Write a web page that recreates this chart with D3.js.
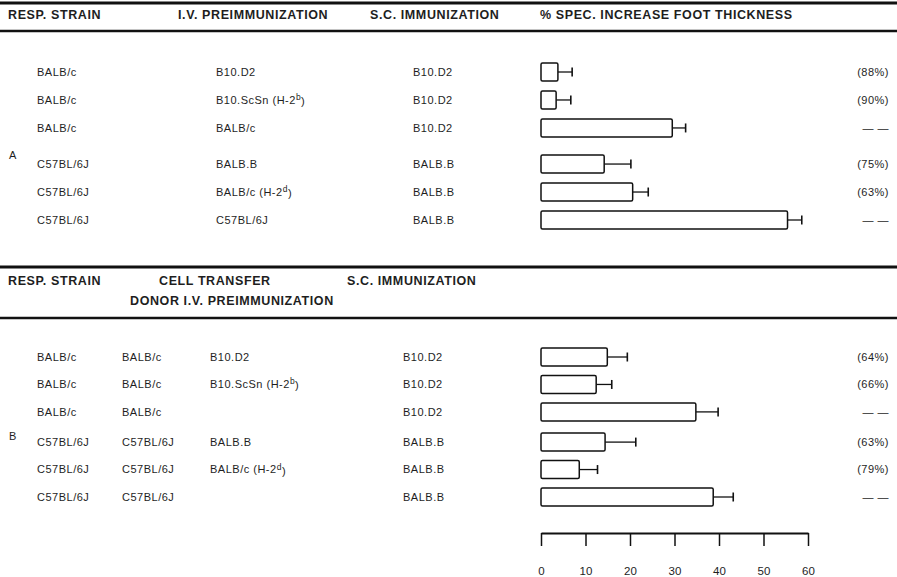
<!DOCTYPE html>
<html>
<head>
<meta charset="utf-8">
<script src="https://cdn.jsdelivr.net/npm/d3@7"></script>
<style>
  html, body { margin: 0; padding: 0; background: #fff; }
  svg { display: block; }
  text { font-family: "Liberation Sans", Arial, sans-serif; fill: #1e1e1e; }
  .hdr { font-weight: bold; font-size: 12.5px; letter-spacing: 0.6px; }
  .cell { font-size: 11px; letter-spacing: 0.5px; }
</style>
</head>
<body>
<svg id="chart" width="897" height="577"></svg>
<script>
// Panel A: responder strain, i.v. preimmunization, s.c. immunization
const respA = ["BALB/c", "BALB/c", "BALB/c", "C57BL/6J", "C57BL/6J", "C57BL/6J"];
const ivA = [["B10.D2"], ["B10.ScSn (H-2", "b", ")"], ["BALB/c"], ["BALB.B"], ["BALB/c (H-2", "d", ")"], ["C57BL/6J"]];
const scA = ["B10.D2", "B10.D2", "B10.D2", "BALB.B", "BALB.B", "BALB.B"];
const valueA = [3.8, 3.4, 29.5, 14.2, 20.6, 55.4];
const errA = [3.2, 3.3, 3.0, 6.0, 3.5, 3.2];
const pctA = ["(88%)", "(90%)", "— —", "(75%)", "(63%)", "— —"];

// Panel B: responder strain, cell transfer (donor, i.v. preimmunization), s.c. immunization
const respB = ["BALB/c", "BALB/c", "BALB/c", "C57BL/6J", "C57BL/6J", "C57BL/6J"];
const donorB = ["BALB/c", "BALB/c", "BALB/c", "C57BL/6J", "C57BL/6J", "C57BL/6J"];
const ivB = [["B10.D2"], ["B10.ScSn (H-2", "b", ")"], [""], ["BALB.B"], ["BALB/c (H-2", "d", ")"], [""]];
const scB = ["B10.D2", "B10.D2", "B10.D2", "BALB.B", "BALB.B", "BALB.B"];
const valueB = [14.9, 12.4, 34.8, 14.4, 8.6, 38.7];
const errB = [4.5, 3.5, 5.0, 6.9, 4.1, 4.5];
const pctB = ["(64%)", "(66%)", "— —", "(63%)", "(79%)", "— —"];

const xTicks = [0, 10, 20, 30, 40, 50, 60];

const svg = d3.select("#chart");
const W = 897;

const x = d3.scaleLinear().domain([0, 60]).range([541, 808]);

// row slot: the two strain blocks in a panel are separated by a small extra gap
const slotFn = gap => i => i + (i >= 3 ? gap : 0);

function rule(y, w) {
  svg.append("line")
    .attr("x1", 0).attr("x2", W)
    .attr("y1", y).attr("y2", y)
    .attr("stroke", "#111").attr("stroke-width", w);
}

function header(xPos, y, s) {
  svg.append("text").attr("class", "hdr")
    .attr("x", xPos).attr("y", y).attr("dy", "0.35em").text(s);
}

function label(g, xPos, y, parts, cls) {
  const t = g.append("text").attr("class", cls)
    .attr("x", xPos).attr("y", y).attr("dy", "0.35em");
  parts.forEach((p, k) => {
    if (k === 1) {
      t.append("tspan").attr("dy", "-0.45em").style("font-size", "8.5px").text(p);
    } else if (k === 2) {
      t.append("tspan").attr("dy", "0.45em").text(p);
    } else {
      t.append("tspan").text(p);
    }
  });
}

function bars(g, y, slot, values, errs, pcts) {
  const h = 18;
  const rows = g.selectAll("g.row").data(values).join("g").attr("class", "row");
  rows.append("line")
    .attr("x1", (d) => x(d))
    .attr("x2", (d, i) => x(d + errs[i]))
    .attr("y1", (d, i) => y(slot(i))).attr("y2", (d, i) => y(slot(i)))
    .attr("stroke", "#111").attr("stroke-width", 1.3);
  rows.append("line")
    .attr("x1", (d, i) => x(d + errs[i])).attr("x2", (d, i) => x(d + errs[i]))
    .attr("y1", (d, i) => y(slot(i)) - 4.5).attr("y2", (d, i) => y(slot(i)) + 4.5)
    .attr("stroke", "#111").attr("stroke-width", 1.6);
  rows.append("rect")
    .attr("x", x(0))
    .attr("y", (d, i) => y(slot(i)) - h / 2)
    .attr("width", d => x(d) - x(0))
    .attr("height", h)
    .attr("rx", 1.5)
    .attr("fill", "#fff").attr("stroke", "#111").attr("stroke-width", 1.5);
  rows.append("text").attr("class", "cell")
    .attr("x", 889).attr("y", (d, i) => y(slot(i))).attr("dy", "0.35em")
    .attr("text-anchor", "end")
    .text((d, i) => pcts[i]);
}

// ---------- Panel A ----------
rule(3, 3);
header(8, 15, "RESP. STRAIN");
header(178, 15, "I.V. PREIMMUNIZATION");
header(370, 15, "S.C. IMMUNIZATION");
header(540, 15, "% SPEC. INCREASE FOOT THICKNESS");
rule(31, 2.5);

const slotA = slotFn(0.29);
const yA = d3.scaleLinear().domain([0, slotA(5)]).range([72, 220]);
const gA = svg.append("g");
respA.forEach((s, i) => label(gA, 37, yA(slotA(i)), [s], "cell"));
ivA.forEach((s, i) => label(gA, 216, yA(slotA(i)), s, "cell"));
scA.forEach((s, i) => label(gA, 413, yA(slotA(i)), [s], "cell"));
label(gA, 9, (yA(slotA(2)) + yA(slotA(3))) / 2 + 9, ["A"], "cell");
bars(gA.append("g"), yA, slotA, valueA, errA, pctA);

// ---------- Panel B ----------
rule(267, 3);
header(8, 281, "RESP. STRAIN");
header(159, 281, "CELL TRANSFER");
header(347, 281, "S.C. IMMUNIZATION");
header(130, 301, "DONOR  I.V. PREIMMUNIZATION");
rule(318, 2.5);

const slotB = slotFn(0.1);
const yB = d3.scaleLinear().domain([0, slotB(5)]).range([357, 497]);
const gB = svg.append("g");
respB.forEach((s, i) => label(gB, 37, yB(slotB(i)), [s], "cell"));
donorB.forEach((s, i) => label(gB, 122, yB(slotB(i)), [s], "cell"));
ivB.forEach((s, i) => label(gB, 210, yB(slotB(i)), s, "cell"));
scB.forEach((s, i) => label(gB, 403, yB(slotB(i)), [s], "cell"));
label(gB, 9, (yB(slotB(2)) + yB(slotB(3))) / 2 + 9, ["B"], "cell");
bars(gB.append("g"), yB, slotB, valueB, errB, pctB);

// ---------- Axis ----------
const axis = d3.axisBottom(x).tickValues(xTicks).tickSize(13).tickPadding(21).tickSizeOuter(0);
const ga = svg.append("g").attr("transform", "translate(0,533)").call(axis);
ga.select(".domain").attr("stroke", "#111").attr("stroke-width", 1.8);
ga.selectAll(".tick line").attr("stroke", "#111").attr("stroke-width", 1.5);
ga.selectAll(".tick text")
  .style("font-family", "'Liberation Sans', Arial, sans-serif")
  .style("font-size", "11.5px").attr("fill", "#1e1e1e");
</script>
</body>
</html>
